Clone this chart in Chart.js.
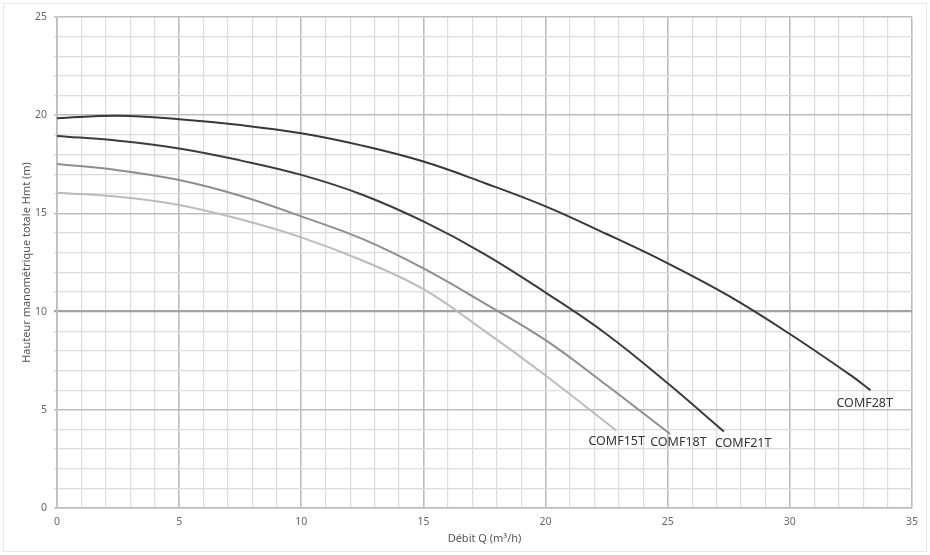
<!DOCTYPE html>
<html>
<head>
<meta charset="utf-8">
<script src="https://cdn.jsdelivr.net/npm/chart.js@4.4.1/dist/chart.umd.min.js"></script>
<style>
  html, body { margin: 0; padding: 0; background: #fff; }
  #wrap { width: 930px; height: 555px; position: relative; }
</style>
</head>
<body>
<div id="wrap"><canvas id="curveChart"></canvas></div>
<script>
// pump curves: debit Q (m3/h) vs Hmt (m)
const pumpNames = ['COMF28T', 'COMF21T', 'COMF18T', 'COMF15T'];

const q28 = [0, 2.5, 5, 7.5, 10, 12.5, 15, 17.5, 20, 22.5, 25, 27.5, 30, 32.5, 33.3];
const h28 = [19.85, 19.97, 19.8, 19.5, 19.08, 18.45, 17.64, 16.55, 15.36, 13.95, 12.46, 10.8, 8.86, 6.75, 6.0];

const q21 = [0, 2.5, 5, 7.5, 10, 12.5, 15, 17.5, 20, 22.5, 25, 27.3];
const h21 = [18.94, 18.7, 18.31, 17.7, 16.96, 15.95, 14.59, 12.93, 10.97, 8.85, 6.35, 3.89];

const q18 = [0, 2.5, 5, 7.5, 10, 12.5, 15, 17.5, 20, 22.5, 25.1];
const h18 = [17.52, 17.2, 16.7, 15.9, 14.85, 13.7, 12.2, 10.42, 8.55, 6.25, 3.77];

const q15 = [0, 2.5, 5, 7.5, 10, 12.5, 15, 17.5, 20, 22.9];
const h15 = [16.05, 15.85, 15.43, 14.7, 13.78, 12.6, 11.14, 9.02, 6.75, 3.94];

const xTickLabels = [0, 5, 10, 15, 20, 25, 30, 35];
const yTickLabels = [0, 5, 10, 15, 20, 25];

const lineColors = ['#383838', '#3c3c3c', '#8e8e8e', '#bcbcbc'];
// label offset from curve end (left edge of text, vertical middle)
const labelOffsets = [[-34, 13], [-9, 12], [-20, 8], [-28, 11]];

function toPoints(xs, ys) {
    return xs.map((x, i) => ({ x: x, y: ys[i] }));
}

const seriesData = [toPoints(q28, h28), toPoints(q21, h21), toPoints(q18, h18), toPoints(q15, h15)];

function gridColor(ctx, axis) {
    const v = ctx.tick ? ctx.tick.value : 0;
    if (axis === 'y' && v === 10) return '#a2a2a2';
    if (v % 5 === 0) return '#bdbdbd';
    return '#dcdcdc';
}
function gridWidth(ctx, axis) {
    const v = ctx.tick ? ctx.tick.value : 0;
    if (axis === 'y' && v === 10) return 2.2;
    if (v % 5 === 0) return 1.6;
    return 1.2;
}

const endLabels = {
    id: 'endLabels',
    afterDatasetsDraw(chart) {
        const { ctx } = chart;
        const xs = chart.scales.x, ys = chart.scales.y;
        ctx.save();
        ctx.font = '12.5px "Noto Sans", sans-serif';
        ctx.fillStyle = '#333';
        ctx.textAlign = 'left';
        ctx.textBaseline = 'middle';
        seriesData.forEach((pts, i) => {
            const last = pts[pts.length - 1];
            const px = xs.getPixelForValue(last.x) + labelOffsets[i][0];
            const py = ys.getPixelForValue(last.y) + labelOffsets[i][1];
            ctx.fillText(pumpNames[i], px, py);
        });
        ctx.restore();
    }
};

const frame = {
    id: 'frame',
    beforeDraw(chart) {
        const { ctx } = chart;
        ctx.save();
        ctx.strokeStyle = '#e8e8e8';
        ctx.lineWidth = 1;
        ctx.strokeRect(3.5, 3.5, 923, 548);
        ctx.restore();
    }
};

new Chart(document.getElementById('curveChart'), {
    type: 'line',
    data: {
        datasets: seriesData.map((pts, i) => ({
            label: pumpNames[i],
            data: pts,
            borderColor: lineColors[i],
            borderWidth: 2,
            pointRadius: 0,
            fill: false,
            tension: 0.4
        }))
    },
    options: {
        responsive: true,
        maintainAspectRatio: false,
        animation: false,
        layout: { padding: { left: 0, right: 18, top: 17, bottom: 0 } },
        plugins: {
            legend: { display: false },
            tooltip: { enabled: false }
        },
        scales: {
            x: {
                type: 'linear',
                min: 0,
                max: 35,
                afterFit: s => { s.height = 47; },
                ticks: {
                    stepSize: 1,
                    autoSkip: false,
                    maxRotation: 0,
                    padding: 8,
                    color: '#666',
                    font: { family: '"Noto Sans", sans-serif', size: 10.5 },
                    callback: v => xTickLabels.includes(v) ? String(v) : ''
                },
                grid: {
                    drawTicks: false,
                    color: c => gridColor(c, 'x'),
                    lineWidth: c => gridWidth(c, 'x')
                },
                border: { color: '#bdbdbd', width: 1.6 },
                title: {
                    display: true,
                    text: 'Débit Q (m³/h)',
                    color: '#555',
                    font: { family: '"Noto Sans", sans-serif', size: 11 },
                    padding: { top: 0, bottom: 10 }
                }
            },
            y: {
                type: 'linear',
                min: 0,
                max: 25,
                afterFit: s => { s.width = 57; },
                ticks: {
                    stepSize: 1,
                    autoSkip: false,
                    padding: 7,
                    color: '#666',
                    font: { family: '"Noto Sans", sans-serif', size: 10.5 },
                    callback: v => yTickLabels.includes(v) ? String(v) : ''
                },
                grid: {
                    tickLength: 3,
                    color: c => gridColor(c, 'y'),
                    lineWidth: c => gridWidth(c, 'y')
                },
                border: { color: '#bdbdbd', width: 1.6 },
                title: {
                    display: true,
                    text: 'Hauteur manométrique totale Hmt (m)',
                    color: '#555',
                    font: { family: '"Noto Sans", sans-serif', size: 11 },
                    padding: { top: 20, bottom: 0 }
                }
            }
        }
    },
    plugins: [frame, endLabels]
});
</script>
</body>
</html>
